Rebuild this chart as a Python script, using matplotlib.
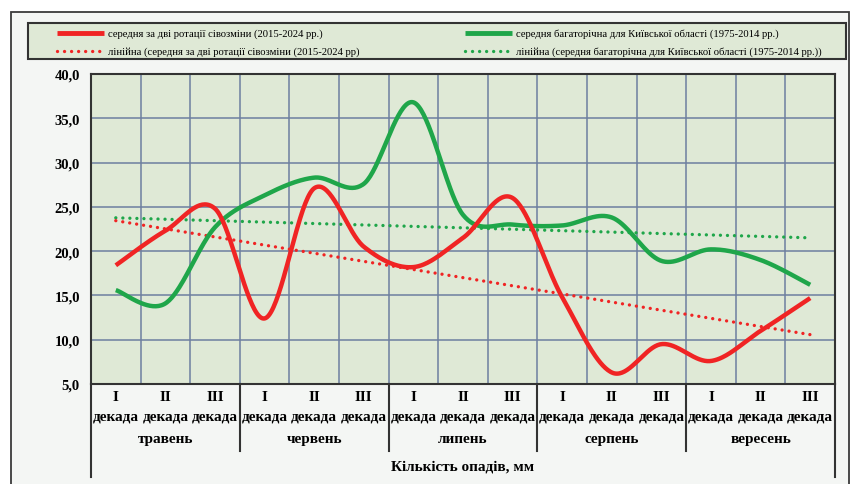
import numpy as np
import matplotlib
matplotlib.use("Agg")
import matplotlib.pyplot as plt
from matplotlib.patches import Rectangle
from matplotlib.lines import Line2D
from matplotlib.transforms import blended_transform_factory

# ---------------- data ----------------
months = ["травень", "червень", "липень", "серпень", "вересень"]
decades = ["I", "II", "III"]
decade_word = "декада"
red_values = [18.4, 22.3, 24.8, 12.4, 27.1, 20.5, 18.2, 21.5, 26.0, 14.8, 6.3, 9.5, 7.6, 11.0, 14.7]
green_values = [15.6, 14.1, 22.7, 26.3, 28.3, 27.6, 36.8, 24.1, 23.0, 22.9, 23.8, 18.9, 20.2, 19.0, 16.2]
y_ticks = [5, 10, 15, 20, 25, 30, 35, 40]
legend_labels = [
    "середня за дві ротації сівозміни (2015-2024 рр.)",
    "лінійна (середня за дві ротації сівозміни (2015-2024 рр)",
    "середня багаторічна для Київської області (1975-2014 рр.)",
    "лінійна (середня багаторічна для Київської області (1975-2014 рр.))",
]
x_title = "Кількість опадів, мм"

RED = "#f02424"
GREEN = "#1fa64a"
GRID = "#6d7fa0"
PLOT_BG = "#dfe9d6"
FRAME_BG = "#f4f6f4"
SERIF = ["Liberation Serif", "DejaVu Serif"]

W, H = 857, 485
fig = plt.figure(figsize=(W / 100, H / 100), dpi=100, facecolor="white")

def fx(px):
    return px / W

def fy(py):
    return 1 - py / H

DOT = (0, (0.01, 2.1))

# outer frame
fig.patches.append(Rectangle((fx(11), fy(500)), fx(838), fy(13) - fy(500),
                             transform=fig.transFigure, facecolor=FRAME_BG,
                             edgecolor="#3a3a3a", linewidth=1.3, zorder=-2))

# legend box
fig.patches.append(Rectangle((fx(28), fy(60)), fx(846) - fx(28), fy(24) - fy(60),
                             transform=fig.transFigure, facecolor=PLOT_BG,
                             edgecolor="#333333", linewidth=1.5, zorder=-1))

# axes
L, R, T, B = 91, 835, 75, 385
ax = fig.add_axes([fx(L), fy(B), fx(R) - fx(L), fy(T) - fy(B)])
ax.set_zorder(2)
ax.set_facecolor(PLOT_BG)
n = len(red_values)
x = np.arange(1, n + 1)
ax.set_xlim(0.5, n + 0.5)
ax.set_ylim(5, 40)

for k in range(1, n):
    ax.axvline(k + 0.5, color=GRID, lw=1.1, zorder=1)
for v in y_ticks[1:-1]:
    ax.axhline(v, color=GRID, lw=1.1, zorder=1)

for s in ax.spines.values():
    s.set_color("#333333")
    s.set_linewidth(1.5)

ax.set_xticks([])
ax.set_yticks(y_ticks)
ax.set_yticklabels([f"{v:.1f}".replace(".", ",") for v in y_ticks],
                   fontfamily=SERIF, fontweight="bold", fontsize=10.5)
ax.tick_params(axis="y", length=0, pad=8)

def smooth(xs, ys, m=40):
    pts = np.column_stack([xs, ys]).astype(float)
    out = []
    for i in range(len(pts) - 1):
        p0 = pts[i - 1] if i > 0 else pts[i]
        p1 = pts[i]
        p2 = pts[i + 1]
        p3 = pts[i + 2] if i + 2 < len(pts) else pts[i + 1]
        c1 = p1 + (p2 - p0) / 6
        c2 = p2 - (p3 - p1) / 6
        t = np.linspace(0, 1, m)[:, None]
        seg = ((1 - t) ** 3) * p1 + 3 * ((1 - t) ** 2) * t * c1 + 3 * (1 - t) * t ** 2 * c2 + t ** 3 * p2
        out.append(seg if i == 0 else seg[1:])
    c = np.vstack(out)
    return c[:, 0], c[:, 1]

# trend lines
for vals, col in ((green_values, GREEN), (red_values, RED)):
    k, b = np.polyfit(x, vals, 1)
    ax.plot(x, k * x + b, color=col, lw=2.4, linestyle=DOT,
            dash_capstyle="round", zorder=3)

sx, sy = smooth(x, green_values)
ax.plot(sx, sy, color=GREEN, lw=3.2, solid_capstyle="butt", zorder=4)
sx, sy = smooth(x, red_values)
ax.plot(sx, sy, color=RED, lw=3.2, solid_capstyle="butt", zorder=5)

# category axis
tr = blended_transform_factory(ax.transData, fig.transFigure)
for i in range(n):
    ax.text(x[i], fy(398), decades[i % 3], transform=tr, ha="center", va="center",
            fontfamily=SERIF, fontweight="bold", fontsize=11)
    ax.text(x[i], fy(417), decade_word, transform=tr, ha="center", va="center",
            fontfamily=SERIF, fontweight="bold", fontsize=11)
for j, mname in enumerate(months):
    ax.text(3 * j + 2, fy(440), mname, transform=tr, ha="center", va="center",
            fontfamily=SERIF, fontweight="bold", fontsize=11)
for j in range(1, len(months)):
    ax.add_line(Line2D([3 * j + 0.5] * 2, [fy(385), fy(452)], transform=tr,
                       color="#333333", lw=1.5, clip_on=False))
for xe in (0.5, n + 0.5):
    ax.add_line(Line2D([xe] * 2, [fy(385), fy(478)], transform=tr,
                       color="#333333", lw=1.5, clip_on=False))
ax.text((n + 1) / 2, fy(467), x_title, transform=tr, ha="center", va="center",
        fontfamily=SERIF, fontweight="bold", fontsize=11)

# legend (manual)
def leg_item(x0, yrow, col, dotted, label):
    if dotted:
        fig.add_artist(Line2D([fx(x0), fx(x0 + 47)], [fy(yrow)] * 2, transform=fig.transFigure,
                              color=col, lw=2.4, linestyle=DOT, dash_capstyle="round"))
    else:
        fig.add_artist(Line2D([fx(x0), fx(x0 + 47)], [fy(yrow)] * 2, transform=fig.transFigure,
                              color=col, lw=3.5, solid_capstyle="butt"))
    fig.text(fx(x0 + 51), fy(yrow), label, ha="left", va="center",
             fontfamily=SERIF, fontsize=7.7)

leg_item(57, 34, RED, False, legend_labels[0])
leg_item(57, 52, RED, True, legend_labels[1])
leg_item(465, 34, GREEN, False, legend_labels[2])
leg_item(465, 52, GREEN, True, legend_labels[3])

fig.savefig("out.png", dpi=100, facecolor="white")
